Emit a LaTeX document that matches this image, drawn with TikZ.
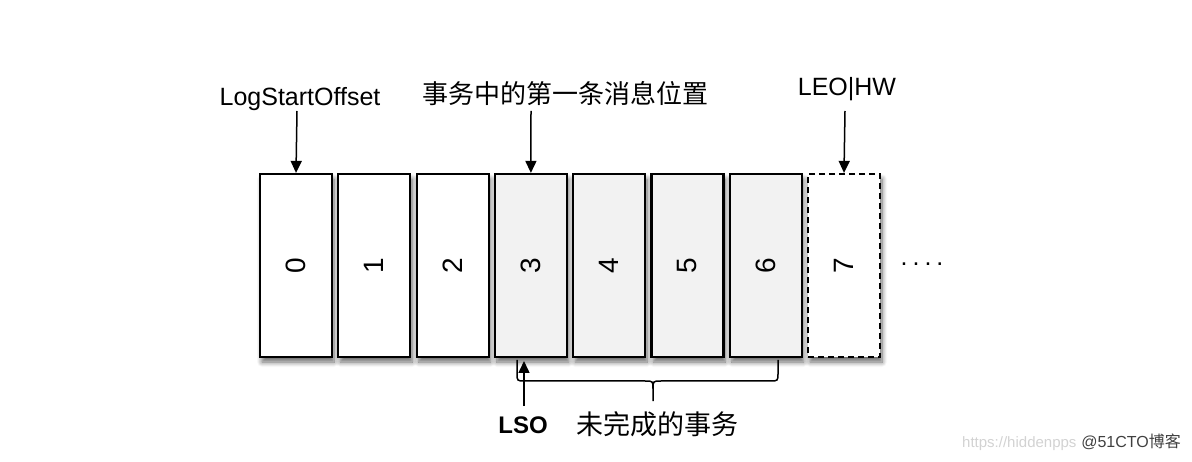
\documentclass[tikz,border=0pt]{standalone}
\usepackage{fontspec}
\setmainfont{Liberation Sans}
\newfontfamily\cjk{Noto Sans CJK SC}
\usetikzlibrary{arrows.meta,shadows,shadows.blur}
\begin{document}
\begin{tikzpicture}[x=1pt,y=-1pt,
  cell/.style={draw=black, line width=2.2pt, fill=white, minimum width=72pt, minimum height=183pt,
    inner sep=0pt, blur shadow={shadow blur steps=8, shadow opacity=60, shadow xshift=2pt, shadow yshift=-5pt, shadow blur radius=5pt}},
  txcell/.style={cell, fill=gray!10},
  opencell/.style={cell, dashed, dash pattern=on 6pt off 4pt},
  lbl/.style={inner sep=0pt, anchor=base, font=\fontsize{25}{25}\selectfont},
  cjklbl/.style={inner sep=0pt, anchor=base, font=\fontsize{26}{26}\selectfont\cjk},
  arr/.style={line width=1.5pt, -{Triangle[width=11pt,length=12pt]}},
  brace/.style={line width=1.5pt}
]
\useasboundingbox (0,0) rectangle (1192,462);
\newcommand{\dig}[1]{\rotatebox{90}{\fontsize{28}{28}\selectfont #1}}
\node[cell]     (b0) at (296,265.5) {\dig{0}};
\node[cell]     (b1) at (374.3,265.5) {\dig{1}};
\node[cell]     (b2) at (452.6,265.5) {\dig{2}};
\node[txcell]   (b3) at (530.9,265.5) {\dig{3}};
\node[txcell]   (b4) at (609.1,265.5) {\dig{4}};
\node[txcell]   (b5) at (687.4,265.5) {\dig{5}};
\node[txcell]   (b6) at (765.7,265.5) {\dig{6}};
\node[opencell] (b7) at (844,265.5) {\dig{7}};
\node[lbl] (dots) at (922,266) {.\hspace{5pt}.\hspace{5pt}.\hspace{5pt}.};

\node[lbl] (lstart) at (300,106) {LogStartOffset};
\node[cjklbl] (first) at (565,104) {事务中的第一条消息位置};
\node[lbl] (leo) at (847,96) {LEO|HW};

\coordinate (s0) at (297,111);
\coordinate (s3) at (531,111);
\coordinate (s7) at (845,111);
\draw[arr] (s0) -- (b0.north);
\draw[arr] (s3) -- (b3.north);
\draw[arr] (s7) -- (b7.north);

% brace under the open transaction
\draw[brace] (517,360) -- (517,373) .. controls (517,381) .. (525,381) -- (645,381)
  .. controls (653,381) .. (653,389) -- (653,401);
\draw[brace] (778,360) -- (778,373) .. controls (778,381) .. (770,381) -- (661,381)
  .. controls (653,381) .. (653,389);

\node[lbl, font=\fontsize{24}{24}\selectfont\bfseries] (lso) at (523,433) {LSO};
\coordinate (lsotail) at (524,406);
\coordinate (lsohead) at (524,361);
\draw[arr] (lsotail) -- (lsohead);
\node[cjklbl, font=\fontsize{27}{27}\selectfont\cjk] (open) at (657,435) {未完成的事务};

% watermark
\node[inner sep=0pt, anchor=base west, text=gray!35, font=\fontsize{15}{15}\selectfont] (wm1) at (962,447) {https://hiddenpps};
\node[inner sep=0pt, anchor=base east, text=black!75, font=\fontsize{16}{16}\selectfont] (wm2) at (1181,447) {@51CTO{\cjk 博客}};
\end{tikzpicture}
\end{document}
